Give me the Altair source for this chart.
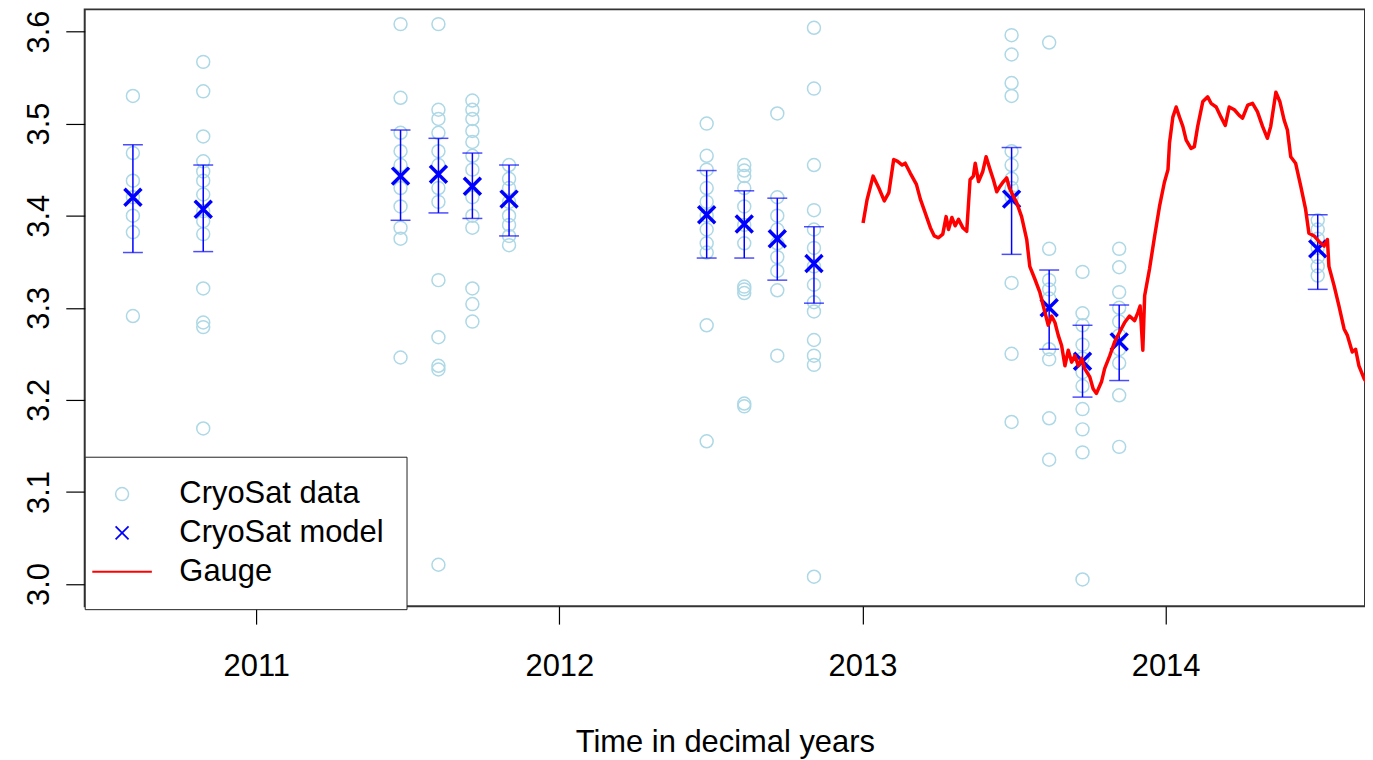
import altair as alt
import pandas as pd

# ---------------- data ----------------
obs_time = [2010.593, 2010.825, 2011.476, 2011.601, 2011.713, 2011.834,
            2012.486, 2012.610, 2012.719, 2012.840,
            2013.492, 2013.616, 2013.726, 2013.847, 2014.502]

obs_values = [
    [3.530, 3.468, 3.438, 3.420, 3.400, 3.382, 3.291],
    [3.567, 3.535, 3.486, 3.459, 3.448, 3.438, 3.423, 3.405, 3.394, 3.380, 3.321, 3.284, 3.279, 3.169],
    [3.608, 3.528, 3.490, 3.470, 3.455, 3.430, 3.410, 3.387, 3.375, 3.246],
    [3.608, 3.515, 3.505, 3.490, 3.470, 3.455, 3.430, 3.415, 3.330, 3.268, 3.237, 3.233, 3.021],
    [3.525, 3.515, 3.505, 3.492, 3.480, 3.465, 3.450, 3.420, 3.400, 3.387, 3.321, 3.304, 3.285],
    [3.455, 3.440, 3.430, 3.415, 3.400, 3.390, 3.378, 3.368],
    [3.500, 3.465, 3.450, 3.430, 3.415, 3.400, 3.385, 3.370, 3.360, 3.281, 3.155],
    [3.455, 3.449, 3.443, 3.430, 3.410, 3.390, 3.370, 3.323, 3.320, 3.316, 3.196, 3.193],
    [3.511, 3.420, 3.400, 3.385, 3.370, 3.355, 3.340, 3.319, 3.248],
    [3.604, 3.538, 3.455, 3.406, 3.385, 3.365, 3.345, 3.325, 3.306, 3.296, 3.265, 3.248, 3.238, 3.008],
    [3.596, 3.575, 3.544, 3.530, 3.470, 3.455, 3.440, 3.430, 3.420, 3.327, 3.250, 3.176],
    [3.588, 3.364, 3.330, 3.320, 3.310, 3.255, 3.244, 3.180, 3.135],
    [3.339, 3.294, 3.281, 3.260, 3.245, 3.230, 3.215, 3.190, 3.168, 3.143, 3.005],
    [3.364, 3.344, 3.317, 3.300, 3.285, 3.270, 3.255, 3.240, 3.205, 3.149],
    [3.395, 3.385, 3.375, 3.365, 3.355, 3.345, 3.335],
]

model_value = [3.420, 3.407, 3.443, 3.445, 3.432, 3.418, 3.401, 3.391, 3.375, 3.348,
               3.418, 3.300, 3.242, 3.263, 3.364]
model_lower = [3.360, 3.361, 3.395, 3.403, 3.397, 3.378, 3.354, 3.354, 3.330, 3.305,
               3.358, 3.255, 3.203, 3.221, 3.320]
model_upper = [3.477, 3.455, 3.493, 3.484, 3.468, 3.455, 3.449, 3.427, 3.419, 3.388,
               3.474, 3.341, 3.281, 3.303, 3.401]

gauge_time = [2013.002, 2013.015, 2013.035, 2013.054, 2013.072, 2013.087, 2013.103, 2013.116, 2013.131, 2013.141,
              2013.158, 2013.178, 2013.191, 2013.207, 2013.224, 2013.237, 2013.251, 2013.265, 2013.276, 2013.284,
              2013.295, 2013.306, 2013.317, 2013.331, 2013.344, 2013.355, 2013.366, 2013.372, 2013.383, 2013.397,
              2013.408, 2013.421, 2013.432, 2013.443, 2013.454, 2013.465, 2013.476, 2013.485, 2013.498, 2013.509,
              2013.525, 2013.542, 2013.552, 2013.569, 2013.585, 2013.602, 2013.613, 2013.624, 2013.635, 2013.646,
              2013.657, 2013.668, 2013.679, 2013.690, 2013.701, 2013.712, 2013.723, 2013.733, 2013.750, 2013.761,
              2013.772, 2013.789, 2013.799, 2013.816, 2013.832, 2013.849, 2013.865, 2013.881, 2013.898, 2013.909,
              2013.916, 2013.925, 2013.931, 2013.947, 2013.964, 2013.980, 2013.996, 2014.008, 2014.013, 2014.024,
              2014.035, 2014.046, 2014.057, 2014.068, 2014.084, 2014.095, 2014.106, 2014.123, 2014.139, 2014.150,
              2014.167, 2014.183, 2014.197, 2014.210, 2014.227, 2014.243, 2014.254, 2014.271, 2014.287, 2014.303,
              2014.320, 2014.336, 2014.347, 2014.364, 2014.377, 2014.391, 2014.402, 2014.413, 2014.429, 2014.446,
              2014.462, 2014.473, 2014.490, 2014.506, 2014.523, 2014.534, 2014.539, 2014.556, 2014.572, 2014.589,
              2014.600, 2014.616, 2014.627, 2014.638, 2014.655, 2014.670]

gauge_level = [3.392, 3.417, 3.443, 3.430, 3.416, 3.425, 3.461, 3.459, 3.455, 3.457,
               3.446, 3.434, 3.418, 3.403, 3.387, 3.378, 3.376, 3.380, 3.399, 3.385,
               3.398, 3.389, 3.396, 3.387, 3.383, 3.439, 3.443, 3.457, 3.437, 3.448,
               3.464, 3.450, 3.439, 3.426, 3.432, 3.437, 3.441, 3.430, 3.421, 3.414,
               3.399, 3.374, 3.345, 3.331, 3.317, 3.295, 3.281, 3.291, 3.284, 3.270,
               3.259, 3.237, 3.254, 3.241, 3.248, 3.237, 3.245, 3.234, 3.225, 3.212,
               3.207, 3.220, 3.234, 3.248, 3.263, 3.274, 3.284, 3.291, 3.286, 3.295,
               3.302, 3.254, 3.313, 3.342, 3.378, 3.410, 3.436, 3.450, 3.479, 3.507,
               3.518, 3.507, 3.497, 3.482, 3.473, 3.475, 3.497, 3.524, 3.529, 3.522,
               3.518, 3.507, 3.498, 3.518, 3.515, 3.509, 3.506, 3.520, 3.522, 3.513,
               3.497, 3.484, 3.497, 3.534, 3.524, 3.504, 3.493, 3.464, 3.457, 3.432,
               3.407, 3.381, 3.378, 3.372, 3.367, 3.374, 3.345, 3.324, 3.302, 3.277,
               3.270, 3.252, 3.255, 3.237, 3.223, 3.215]

x_ticks = [2011, 2012, 2013, 2014]
y_ticks = [3.0, 3.1, 3.2, 3.3, 3.4, 3.5, 3.6]

series_names = ["CryoSat data", "CryoSat model", "Gauge"]
series_colors = ["#ADD8E6", "#0000FF", "#FF0000"]
series_shapes = ["circle", "M-1,-1L1,1M1,-1L-1,1", "M-4.6,0L4.6,0"]
series_widths = [1.5, 2.0, 3.5]

# ---------------- tables ----------------
obs_df = pd.DataFrame(
    [{"t": t, "h": v, "series": "CryoSat data"} for t, vals in zip(obs_time, obs_values) for v in vals]
)
model_df = pd.DataFrame({"t": obs_time, "h": model_value, "lo": model_lower,
                         "hi": model_upper, "series": "CryoSat model"})
gauge_df = pd.DataFrame({"t": gauge_time, "h": gauge_level, "series": "Gauge"})

FONT = "Liberation Sans"

x_enc = alt.X("t:Q",
              scale=alt.Scale(domain=[2010.434, 2014.658], nice=False, zero=False),
              axis=alt.Axis(values=x_ticks, format="d", title="Time in decimal years",
                            grid=False, domain=False, tickColor="black", tickWidth=1.2,
                            labelFont=FONT, titleFont=FONT, labelColor="black", titleColor="black",
                            labelFontSize=31, titleFontSize=31, titleFontWeight="normal",
                            labelPadding=28, titlePadding=46, tickSize=18))
y_enc = alt.Y("h:Q",
              scale=alt.Scale(domain=[2.976, 3.624], nice=False, zero=False),
              axis=alt.Axis(values=y_ticks, format=".1f", title=None, labelAngle=-90,
                            grid=False, domain=False, tickColor="black", tickWidth=1.2,
                            labelFont=FONT, labelColor="black",
                            labelAlign="center", labelBaseline="alphabetic",
                            labelFontSize=31, labelPadding=17, tickSize=19))

legend = alt.Legend(
    title=None, orient="none", legendX=0, legendY=449, direction="vertical",
    padding=22, rowPadding=7, symbolOffset=0, labelOffset=42,
    labelFontSize=31, labelFont=FONT, labelColor="black", labelLimit=600,
    strokeColor="#222", fillColor="white", cornerRadius=0,
    symbolSize=169, symbolFillColor="transparent",
)

color_enc = alt.Color("series:N", scale=alt.Scale(domain=series_names, range=series_colors), legend=legend)
shape_enc = alt.Shape("series:N", scale=alt.Scale(domain=series_names, range=series_shapes), legend=legend)
width_enc = alt.StrokeWidth("series:N", scale=alt.Scale(domain=series_names, range=series_widths), legend=legend)

points = alt.Chart(obs_df).mark_point(filled=False, size=169, opacity=1).encode(
    x=x_enc, y=y_enc, color=color_enc, shape=shape_enc, strokeWidth=width_enc)

bars = alt.Chart(model_df).mark_rule(color="#0000FF", strokeWidth=1.5).encode(
    x="t:Q", y="lo:Q", y2="hi:Q")
cap_lo = alt.Chart(model_df).mark_tick(color="#0000FF", orient="horizontal", size=20, thickness=1.5).encode(
    x="t:Q", y="lo:Q")
cap_hi = alt.Chart(model_df).mark_tick(color="#0000FF", orient="horizontal", size=20, thickness=1.5).encode(
    x="t:Q", y="hi:Q")

crosses = alt.Chart(model_df).mark_point(filled=False, size=289, strokeWidth=3.5, opacity=1).encode(
    x="t:Q", y="h:Q", color=color_enc, shape=shape_enc)

gauge = alt.Chart(gauge_df).mark_line(clip=True, strokeWidth=3.5, strokeJoin="round").encode(
    x="t:Q", y="h:Q", color=color_enc)

chart = alt.layer(points, bars, cap_lo, cap_hi, crosses, gauge).properties(
    width=1285, height=599,
    padding={"left": 77, "top": 0, "right": 0, "bottom": 152},
    autosize=alt.AutoSizeParams(type="none"),
    background="white",
).configure_view(
    stroke="#333333", strokeWidth=2
)

chart.save("out.html", embed_options={"renderer": "svg", "actions": False})
